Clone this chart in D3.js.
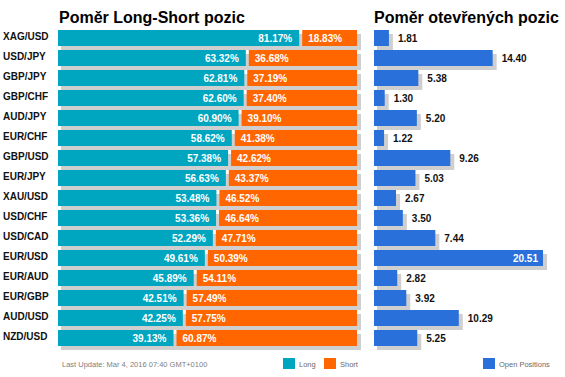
<!DOCTYPE html>
<html>
<head>
<meta charset="utf-8">
<script src="https://cdn.jsdelivr.net/npm/d3@7"></script>
<style>
    body { margin: 0; background: #fff; }
    text { font-family: "Liberation Sans", Arial, sans-serif; }
</style>
</head>
<body>
<svg id="chart"></svg>
<script>
// Data
const pairs = ["XAG/USD", "USD/JPY", "GBP/JPY", "GBP/CHF", "AUD/JPY", "EUR/CHF", "GBP/USD", "EUR/JPY",
    "XAU/USD", "USD/CHF", "USD/CAD", "EUR/USD", "EUR/AUD", "EUR/GBP", "AUD/USD", "NZD/USD"];
const longPct = [81.17, 63.32, 62.81, 62.60, 60.90, 58.62, 57.38, 56.63, 53.48, 53.36, 52.29, 49.61, 45.89, 42.51, 42.25, 39.13];
const shortPct = [18.83, 36.68, 37.19, 37.40, 39.10, 41.38, 42.62, 43.37, 46.52, 46.64, 47.71, 50.39, 54.11, 57.49, 57.75, 60.87];
const openPos = [1.81, 14.40, 5.38, 1.30, 5.20, 1.22, 9.26, 5.03, 2.67, 3.50, 7.44, 20.51, 2.82, 3.92, 10.29, 5.25];

const width = 565, height = 377;
const colLong = "#00a5c0", colShort = "#ff6600", colOpen = "#2a70da", colShadow = "#cfcfcf";

const svg = d3.select("#chart")
    .attr("width", width)
    .attr("height", height);

const rows = pairs.map((p, i) => ({ pair: p, long: longPct[i], short: shortPct[i], open: openPos[i] }));

// Scales
const y = d3.scaleBand()
    .domain(pairs)
    .range([28, 348])
    .paddingInner(0.2)
    .paddingOuter(0.1);

const xL = d3.scaleLinear().domain([0, 100]).range([58, 357]);
const xR = d3.scaleLinear().domain([0, d3.max(openPos)]).range([374, 543]);

// Titles
svg.append("text")
    .attr("x", 59).attr("y", 23)
    .style("font-size", "16px").style("font-weight", "bold")
    .text("Poměr Long-Short pozic");

svg.append("text")
    .attr("x", 374).attr("y", 23)
    .style("font-size", "16px").style("font-weight", "bold")
    .text("Poměr otevřených pozic");

// Left chart: long/short split
const left = svg.append("g");
const gap = 1.5;

left.selectAll("rect.shadow")
    .data(rows)
    .enter().append("rect")
    .attr("class", "shadow")
    .attr("x", xL(0) + 3)
    .attr("y", d => y(d.pair) + 4)
    .attr("width", xL(100) - xL(0) + 1)
    .attr("height", y.bandwidth())
    .attr("fill", colShadow);

left.selectAll("rect.long")
    .data(rows)
    .enter().append("rect")
    .attr("class", "long")
    .attr("x", xL(0))
    .attr("y", d => y(d.pair))
    .attr("width", d => xL(d.long) - gap - xL(0))
    .attr("height", y.bandwidth())
    .attr("fill", colLong);

left.selectAll("rect.short")
    .data(rows)
    .enter().append("rect")
    .attr("class", "short")
    .attr("x", d => xL(d.long) + gap)
    .attr("y", d => y(d.pair))
    .attr("width", d => xL(100) - xL(d.long) - gap)
    .attr("height", y.bandwidth())
    .attr("fill", colShort);

left.selectAll("text.lv")
    .data(rows)
    .enter().append("text")
    .attr("class", "lv")
    .attr("x", d => xL(d.long) - gap - 7)
    .attr("y", d => y(d.pair) + y.bandwidth() / 2 + 4)
    .attr("text-anchor", "end")
    .attr("fill", "#fff")
    .style("font-size", "10px").style("font-weight", "bold")
    .text(d => d.long.toFixed(2) + "%");

left.selectAll("text.sv")
    .data(rows)
    .enter().append("text")
    .attr("class", "sv")
    .attr("x", d => xL(d.long) + gap + 6)
    .attr("y", d => y(d.pair) + y.bandwidth() / 2 + 4)
    .attr("fill", "#fff")
    .style("font-size", "10px").style("font-weight", "bold")
    .text(d => d.short.toFixed(2) + "%");

// Pair labels
svg.selectAll("text.pair")
    .data(rows)
    .enter().append("text")
    .attr("class", "pair")
    .attr("x", 3)
    .attr("y", d => y(d.pair) + y.bandwidth() / 2 + 1.5)
    .attr("fill", "#111")
    .style("font-size", "10px").style("font-weight", "bold")
    .text(d => d.pair);

// Right chart: open positions
const right = svg.append("g");

right.selectAll("rect.shadow")
    .data(rows)
    .enter().append("rect")
    .attr("class", "shadow")
    .attr("x", xR(0) + 3)
    .attr("y", d => y(d.pair) + 4)
    .attr("width", d => xR(d.open) - xR(0) + 1)
    .attr("height", y.bandwidth())
    .attr("fill", colShadow);

right.selectAll("rect.open")
    .data(rows)
    .enter().append("rect")
    .attr("class", "open")
    .attr("x", xR(0))
    .attr("y", d => y(d.pair))
    .attr("width", d => xR(d.open) - xR(0))
    .attr("height", y.bandwidth())
    .attr("fill", colOpen);

right.selectAll("text.ov")
    .data(rows)
    .enter().append("text")
    .attr("class", "ov")
    .attr("x", d => xR(d.open) + 40 > width ? xR(d.open) - 5 : xR(d.open) + 9)
    .attr("y", d => y(d.pair) + y.bandwidth() / 2 + 4)
    .attr("text-anchor", d => xR(d.open) + 40 > width ? "end" : "start")
    .attr("fill", d => xR(d.open) + 40 > width ? "#fff" : "#111")
    .style("font-size", "10px").style("font-weight", "bold")
    .text(d => d.open.toFixed(2));

// Footer
svg.append("text")
    .attr("x", 62).attr("y", 367)
    .attr("fill", "#808080")
    .style("font-size", "7.5px")
    .text("Last Update: Mar 4, 2016 07:40 GMT+0100");

const legendItems = [
    { label: "Long", color: colLong, x: 283 },
    { label: "Short", color: colShort, x: 324 },
    { label: "Open Positions", color: colOpen, x: 483 }
];

const legend = svg.append("g");
legend.selectAll("rect")
    .data(legendItems)
    .enter().append("rect")
    .attr("x", d => d.x).attr("y", 358)
    .attr("width", 12).attr("height", 11)
    .attr("fill", d => d.color);

legend.selectAll("text")
    .data(legendItems)
    .enter().append("text")
    .attr("x", d => d.x + 16).attr("y", 366.5)
    .attr("fill", "#6a6a6a")
    .style("font-size", "7.5px")
    .text(d => d.label);
</script>
</body>
</html>
